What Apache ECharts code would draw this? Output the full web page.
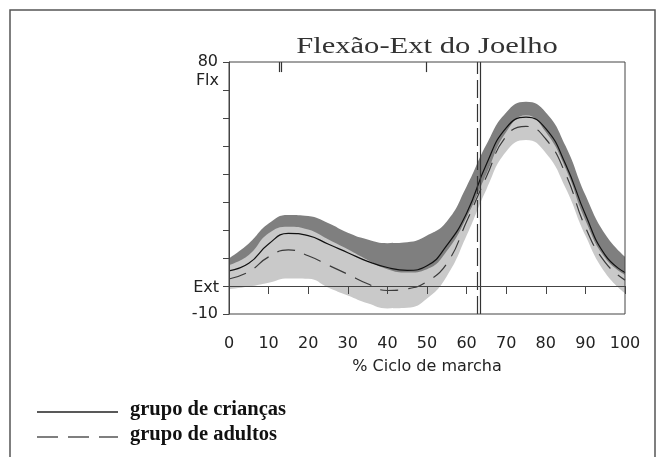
<!DOCTYPE html>
<html><head><meta charset="utf-8">
<script src="https://cdn.jsdelivr.net/npm/echarts@6/dist/echarts.min.js"></script>
<style>html,body{margin:0;padding:0;background:#fff}#c{width:664px;height:457px}</style>
</head><body><div id="c"></div>
<script>
// % of gait cycle
const pct = [0,5,10,15,20,25,30,35,40,45,50,55,60,65,70,75,80,85,90,95,100];
// Children group (grupo de crianças): mean and upper edge of its band
const childMean  = [5.4, 8.1, 15.0, 18.8, 18.0, 15.0, 11.9, 8.8, 6.6, 5.6, 7.2, 14.5, 26.0, 43.5, 56.5, 60.3, 56.2, 43.5, 25.5, 11.0, 4.8];
const childUpper = [9.9, 15.2, 22.3, 25.4, 25.0, 22.5, 19.0, 16.6, 15.3, 15.6, 18.0, 23.0, 35.5, 50.5, 62.0, 65.8, 62.0, 50.0, 32.5, 18.5, 10.5];
// Adults group (grupo de adultos): mean and band edges
const adultMean  = [2.5, 5.1, 10.4, 12.9, 10.8, 7.5, 4.2, 0.8, -1.6, -1.0, 1.6, 8.0, 23.0, 39.0, 53.5, 57.0, 52.5, 40.0, 21.0, 8.4, 2.1];
const adultUpper = [7.5, 11.1, 18.8, 21.2, 20.2, 16.7, 13.1, 9.3, 6.0, 4.8, 6.0, 12.5, 24.5, 40.0, 55.0, 61.0, 55.0, 42.0, 23.5, 10.0, 4.0];
const adultLower = [-1.2, -0.2, 1.2, 2.7, 2.6, -0.5, -3.4, -6.2, -8.0, -7.8, -4.5, 3.5, 18.0, 34.5, 48.0, 52.1, 47.5, 35.0, 18.0, 4.7, -2.6];
// event markers (% cycle)
const topTicks = [12.7, 13.3, 49.7];
const toeOffAdult = 62.7;
const toeOffChild = 63.4;
// axis
const yMin = -10, yMax = 80, yStep = 10;
const xMin = 0, xMax = 100, xStep = 10;

const chart = echarts.init(document.getElementById('c'), null, {renderer: 'canvas'});
const pairs = ys => pct.map((x, i) => [x, ys[i]]);
function fillTo(name, ys, color) {
  return {name, type: 'line', data: pairs(ys), smooth: true, symbol: 'none', silent: true, z: 1,
          lineStyle: {opacity: 0}, areaStyle: {color, opacity: 1, origin: 'start'}};
}
const tickLen = 3.6;
const markData = [
  {yAxis: 0, lineStyle: {color: '#555', width: 1.2, type: 'solid'}},
  [{coord: [toeOffAdult, yMin], lineStyle: {color: '#333', width: 1.2, type: [18, 6]}}, {coord: [toeOffAdult, yMax]}],
  [{coord: [toeOffChild, yMin], lineStyle: {color: '#333', width: 1.2, type: 'solid'}}, {coord: [toeOffChild, yMax]}]
].concat(topTicks.map(t => [{coord: [t, yMax], lineStyle: {color: '#333', width: 1.2, type: 'solid'}}, {coord: [t, yMax - tickLen]}]));

const option = {
  backgroundColor: '#fff',
  animation: false,
  grid: {left: 229, right: 39, top: 62, bottom: 143, show: true, borderColor: '#444', borderWidth: 1, z: 10},
  xAxis: {
    type: 'value', min: xMin, max: xMax, interval: xStep, z: 10,
    name: '% Ciclo de marcha', nameLocation: 'middle', nameGap: 45,
    nameTextStyle: {fontFamily: 'DejaVu Sans', fontSize: 16, color: '#222'},
    axisLine: {show: true, lineStyle: {color: '#444', width: 1}},
    axisTick: {show: true, inside: false, length: 8, lineStyle: {color: '#444'}},
    axisLabel: {fontFamily: 'DejaVu Sans', fontSize: 16, color: '#222', margin: 22},
    splitLine: {show: false}
  },
  yAxis: {
    type: 'value', min: yMin, max: yMax, interval: yStep, z: 10,
    axisLine: {show: true, lineStyle: {color: '#444', width: 1}},
    axisTick: {show: true, inside: false, length: 6, lineStyle: {color: '#444'}},
    axisLabel: {fontFamily: 'DejaVu Sans', fontSize: 16, color: '#222', margin: 11,
      formatter: v => (v === yMax || v === yMin) ? String(v) : ''},
    splitLine: {show: false}
  },
  series: [
    // painter's order: children band top (dark), adults band top (light), adults band bottom (white)
    fillTo('Crianças +DP', childUpper, '#7f7f7f'),
    fillTo('Adultos +DP', adultUpper, '#c9c9c9'),
    fillTo('Adultos -DP', adultLower, '#ffffff'),
    {name: 'grupo de adultos', type: 'line', data: pairs(adultMean), smooth: true, symbol: 'none', z: 3,
     lineStyle: {color: '#3a3a3a', width: 1.2, type: [18, 10]}},
    {name: 'grupo de crianças', type: 'line', data: pairs(childMean), smooth: true, symbol: 'none', z: 4,
     lineStyle: {color: '#111', width: 1.2, type: 'solid'},
     markLine: {silent: true, symbol: ['none', 'none'], label: {show: false}, animation: false, data: markData}}
  ],
  graphic: [
    {type: 'rect', shape: {x: 10, y: 10, width: 645, height: 470}, style: {fill: null, stroke: '#555', lineWidth: 1.5}, silent: true},
    {type: 'text', x: 427, y: 47, scaleX: 1.33, silent: true,
     style: {text: 'Flexão-Ext do Joelho', fontFamily: 'Liberation Serif', fontSize: 23, fill: '#333', align: 'center', verticalAlign: 'middle', textAlign: 'center', textVerticalAlign: 'middle'}},
    {type: 'text', x: 219, y: 81, silent: true,
     style: {text: 'Flx', fontFamily: 'DejaVu Sans', fontSize: 16, fill: '#222', align: 'right', verticalAlign: 'middle', textAlign: 'right', textVerticalAlign: 'middle'}},
    {type: 'text', x: 219, y: 288, silent: true,
     style: {text: 'Ext', fontFamily: 'DejaVu Sans', fontSize: 16, fill: '#222', align: 'right', verticalAlign: 'middle', textAlign: 'right', textVerticalAlign: 'middle'}},
    {type: 'line', shape: {x1: 37, y1: 412, x2: 118, y2: 412}, style: {stroke: '#222', lineWidth: 1.5}, silent: true},
    {type: 'line', shape: {x1: 37, y1: 437, x2: 118, y2: 437}, style: {stroke: '#555', lineWidth: 1.5, lineDash: [21, 10]}, silent: true},
    {type: 'text', x: 130, y: 410, silent: true,
     style: {text: 'grupo de crianças', fontFamily: 'Liberation Serif', fontWeight: 'bold', fontSize: 20.5, fill: '#111', align: 'left', verticalAlign: 'middle', textAlign: 'left', textVerticalAlign: 'middle'}},
    {type: 'text', x: 130, y: 435, silent: true,
     style: {text: 'grupo de adultos', fontFamily: 'Liberation Serif', fontWeight: 'bold', fontSize: 20.5, fill: '#111', align: 'left', verticalAlign: 'middle', textAlign: 'left', textVerticalAlign: 'middle'}}
  ]
};
chart.setOption(option);
</script></body></html>
